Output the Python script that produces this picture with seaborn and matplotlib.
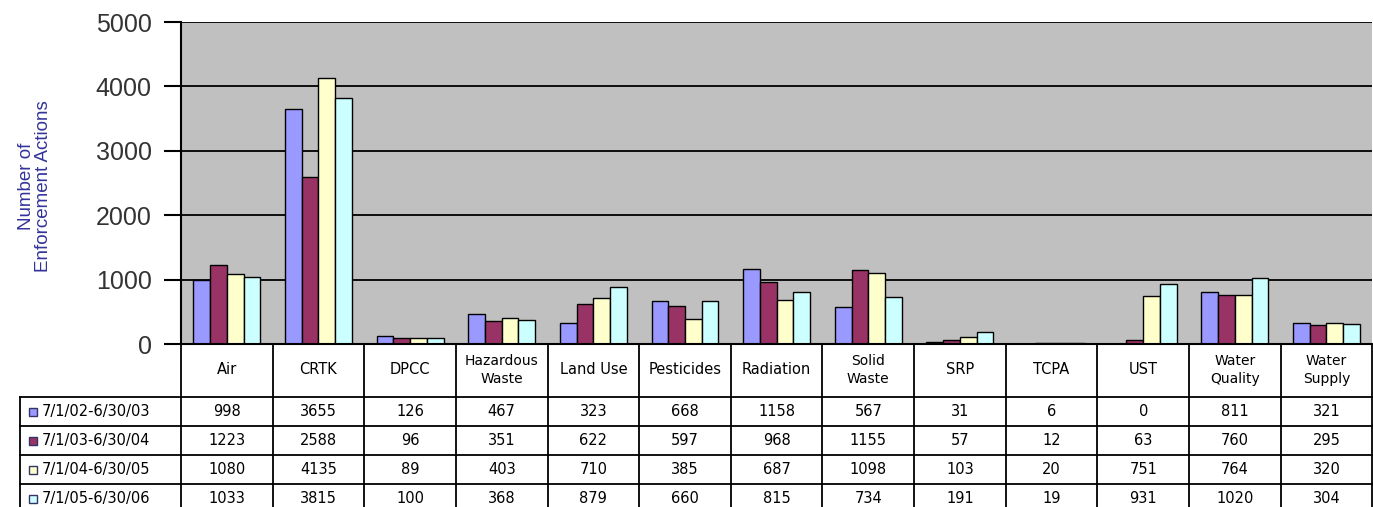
import numpy as np
import pandas as pd
import matplotlib
matplotlib.use("Agg")
import matplotlib.pyplot as plt
import seaborn as sns
from matplotlib.transforms import blended_transform_factory
from matplotlib.patches import Rectangle
from matplotlib.lines import Line2D

categories = ["Air", "CRTK", "DPCC", "Hazardous\nWaste", "Land Use", "Pesticides",
              "Radiation", "Solid\nWaste", "SRP", "TCPA", "UST", "Water\nQuality", "Water\nSupply"]
periods = ["7/1/02-6/30/03", "7/1/03-6/30/04", "7/1/04-6/30/05", "7/1/05-6/30/06"]
fy03 = [998, 3655, 126, 467, 323, 668, 1158, 567, 31, 6, 0, 811, 321]
fy04 = [1223, 2588, 96, 351, 622, 597, 968, 1155, 57, 12, 63, 760, 295]
fy05 = [1080, 4135, 89, 403, 710, 385, 687, 1098, 103, 20, 751, 764, 320]
fy06 = [1033, 3815, 100, 368, 879, 660, 815, 734, 191, 19, 931, 1020, 304]
series = [fy03, fy04, fy05, fy06]
colors = ["#9999ff", "#993366", "#ffffcc", "#ccffff"]

rows = []
for p, vals in zip(periods, series):
    for c, v in zip(categories, vals):
        rows.append({"cat": c, "val": v, "period": p})
df = pd.DataFrame(rows)

W, H = 1373, 507
fig = plt.figure(figsize=(W / 100, H / 100), dpi=100)
fig.patch.set_facecolor("white")
ax = fig.add_axes([181 / W, 1 - 344 / H, 1 - 181 / W - 0.0005, (344 - 22) / H])

sns.barplot(data=df, x="cat", y="val", hue="period", order=categories, hue_order=periods,
            palette=colors, saturation=1, width=0.73, edgecolor="black", linewidth=1.0,
            ax=ax, legend=False, errorbar=None)

ax.set_facecolor("#c0c0c0")
ax.set_xlim(-0.5, len(categories) - 0.5)
ax.set_ylim(0, 5000)
ax.set_yticks(range(0, 5001, 1000))
ax.set_axisbelow(True)
ax.yaxis.grid(True, color="black", linewidth=1.3)
ax.xaxis.grid(False)
ax.set_xticks([])
ax.set_xlabel("")
ax.set_ylabel("")
for s in ["top", "right"]:
    ax.spines[s].set_visible(False)
for s in ["left", "bottom"]:
    ax.spines[s].set_color("black")
    ax.spines[s].set_linewidth(1.5)
ax.tick_params(axis="y", length=12, width=1.5, color="black", pad=9,
               labelsize=18, labelcolor="#333333")
for lab in ax.get_yticklabels():
    lab.set_fontfamily("Liberation Sans")

fig.text(35 / W, 1 - 186 / H, "Number of\nEnforcement Actions", rotation=90,
         ha="center", va="center", color="#333399", fontsize=13.5,
         family="Liberation Sans", linespacing=1.05)

# ---- data table ----
def fy(px):
    return 1 - px / H

def fx(px):
    return px / W

trans = blended_transform_factory(ax.transData, fig.transFigure)
n = len(categories)
top, hdr_bot = 344, 397
row_lines = [397, 426, 455, 484]
row_centers = [411.5, 440.5, 469.5, 498.5]

for i in range(n + 1):
    fig.add_artist(Line2D([i - 0.5, i - 0.5], [fy(top), fy(H + 5)], transform=trans,
                          color="black", lw=1.3))
for yl in row_lines:
    fig.add_artist(Line2D([fx(20), 1.0], [fy(yl), fy(yl)], transform=fig.transFigure,
                          color="black", lw=1.3))
fig.add_artist(Line2D([fx(20), fx(20)], [fy(397), fy(H + 5)], transform=fig.transFigure,
                  color="black", lw=1.3))

for i, c in enumerate(categories):
    fs = 10 if "\n" in c else 10.5
    ax.text(i, fy(370), c, transform=trans, ha="center", va="center", fontsize=fs,
            family="DejaVu Sans", color="black", linespacing=1.3)

for r, (p, vals, col) in enumerate(zip(periods, series, colors)):
    yc = row_centers[r]
    fig.add_artist(Rectangle((fx(29), fy(yc + 4)), 8 / W, 8 / H, transform=fig.transFigure,
                             facecolor=col, edgecolor="#333366", lw=1))
    fig.text(fx(42), fy(yc), p, ha="left", va="center", fontsize=10.5,
             family="DejaVu Sans", color="black")
    for i, v in enumerate(vals):
        ax.text(i, fy(yc), str(v), transform=trans, ha="center", va="center",
                fontsize=10.5, family="DejaVu Sans", color="black")

fig.savefig("out.png", dpi=100)
